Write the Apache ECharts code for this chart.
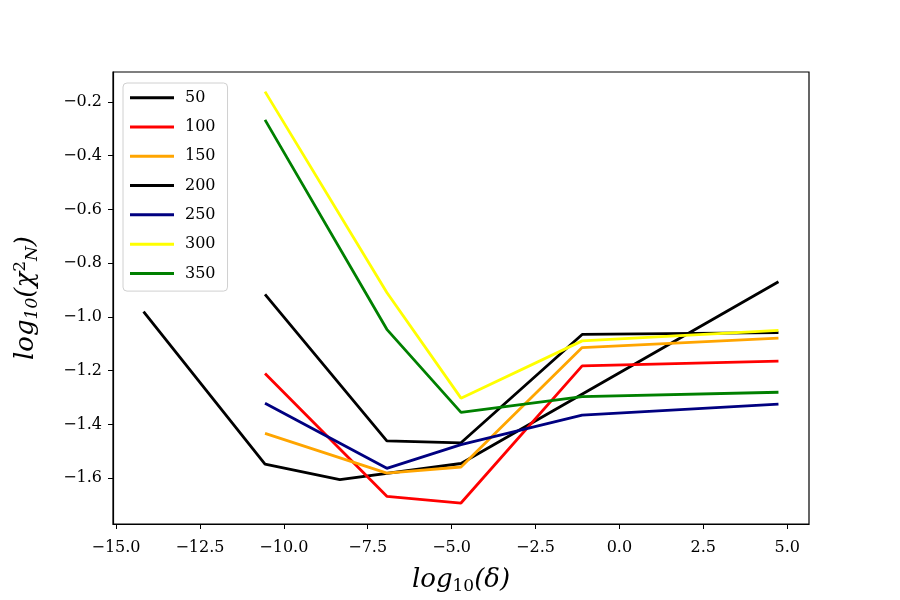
<!DOCTYPE html>
<html>
<head>
<meta charset="utf-8">
<script src="https://cdn.jsdelivr.net/npm/echarts@6/dist/echarts.min.js"></script>
<style>
  html, body { margin: 0; padding: 0; background: #fff; }
  #chart { width: 900px; height: 600px; }
</style>
</head>
<body>
<div id="chart"></div>
<script>
// log10(delta) positions
var delta50 = [-14.18, -10.56, -8.33, -4.72, 4.74];
var delta = [-10.56, -6.93, -4.72, -1.11, 4.74];

var y50 = [-0.980, -1.547, -1.605, -1.545, -0.869];
var y100 = [-1.210, -1.667, -1.692, -1.182, -1.164];
var y150 = [-1.433, -1.581, -1.558, -1.114, -1.079];
var y200 = [-0.916, -1.461, -1.468, -1.065, -1.058];
var y250 = [-1.321, -1.563, -1.475, -1.365, -1.324];
var y300 = [-0.162, -0.909, -1.302, -1.089, -1.050];
var y350 = [-0.267, -1.046, -1.355, -1.296, -1.280];

var names = ['50', '100', '150', '200', '250', '300', '350'];
var colors = ['#000000', '#ff0000', '#ffa500', '#000000', '#000080', '#ffff00', '#008000'];
var xTicks = [-15, -12.5, -10, -7.5, -5, -2.5, 0, 2.5, 5];
var yTicks = [-1.6, -1.4, -1.2, -1.0, -0.8, -0.6, -0.4, -0.2];

var serif = '"DejaVu Serif", "Liberation Serif", serif';

function pairs(xs, ys) {
  return xs.map(function (x, i) { return [x, ys[i]]; });
}
function fmt(v) {
  var s = Math.abs(v).toFixed(1);
  return (v < 0 ? '\u2212' : '') + s;
}

var allY = [y50, y100, y150, y200, y250, y300, y350];
var series = names.map(function (n, i) {
  return {
    name: n,
    type: 'line',
    symbol: 'none',
    data: pairs(i === 0 ? delta50 : delta, allY[i]),
    lineStyle: { color: colors[i], width: 2.8 },
    itemStyle: { color: colors[i] },
    emphasis: { disabled: true },
    animation: false
  };
});

var chart = echarts.init(document.getElementById('chart'));
chart.setOption({
  animation: false,
  backgroundColor: '#fff',
  grid: {
    left: 113, right: 91, top: 72, bottom: 75,
    show: true, borderColor: '#000', borderWidth: 1.2, backgroundColor: 'transparent'
  },
  legend: {
    orient: 'vertical',
    left: 123, top: 83,
    padding: [6, 12, 9, 7],
    icon: 'rect',
    itemWidth: 44, itemHeight: 3, itemGap: 12,
    borderColor: '#d0d0d0', borderWidth: 1, borderRadius: 4,
    backgroundColor: 'rgba(255,255,255,0.8)',
    textStyle: { fontFamily: serif, fontSize: 16, lineHeight: 17.3, color: '#000', padding: [0, 0, 0, 6] },
    data: names
  },
  xAxis: {
    type: 'value',
    min: -15.09, max: 5.65,
    splitLine: { show: false },
    axisLine: { show: true, onZero: false, lineStyle: { color: '#000', width: 1.2 } },
    axisTick: { show: true, inside: false, length: 5, customValues: xTicks, lineStyle: { color: '#000' } },
    axisLabel: { customValues: xTicks, formatter: fmt, fontFamily: serif, fontSize: 16, color: '#000', margin: 16 },
    name: '{i|log}{s|10}{i|(\u03b4)}',
    nameLocation: 'middle',
    nameGap: 42,
    nameTextStyle: {
      rich: {
        i: { fontFamily: serif, fontStyle: 'italic', fontSize: 26, color: '#000' },
        s: { fontFamily: serif, fontSize: 17, color: '#000', padding: [12, 0, 0, 0] }
      }
    }
  },
  yAxis: {
    type: 'value',
    min: -1.770, max: -0.089,
    splitLine: { show: false },
    axisLine: { show: true, onZero: false, lineStyle: { color: '#000', width: 1.2 } },
    axisTick: { show: true, inside: false, length: 5, customValues: yTicks, lineStyle: { color: '#000' } },
    axisLabel: { customValues: yTicks, formatter: fmt, fontFamily: serif, fontSize: 16, color: '#000', margin: 11 },
    name: '{i|log}{s|10}{i|(\u03c7}{p|2}{s|N}{i|)}',
    nameLocation: 'middle',
    nameGap: 72,
    nameRotate: 90,
    nameTextStyle: {
      rich: {
        i: { fontFamily: serif, fontStyle: 'italic', fontSize: 26, color: '#000' },
        s: { fontFamily: serif, fontStyle: 'italic', fontSize: 17, color: '#000', padding: [12, 0, 0, 0] },
        p: { fontFamily: serif, fontSize: 17, color: '#000', padding: [0, 0, 12, 0] }
      }
    }
  },
  series: series
});
</script>
</body>
</html>
